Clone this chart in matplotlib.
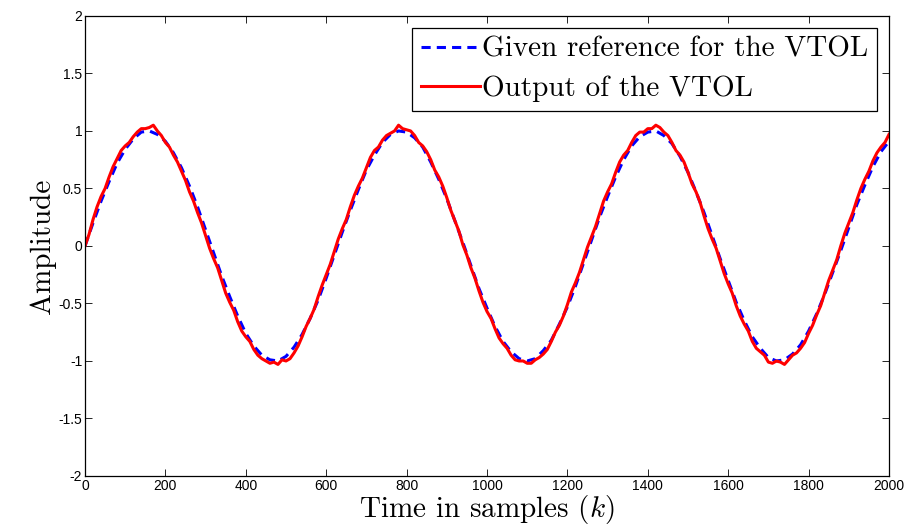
import numpy as np
import matplotlib
matplotlib.use('Agg')
import matplotlib.pyplot as plt

plt.rcParams['mathtext.fontset'] = 'cm'
plt.rcParams['axes.unicode_minus'] = False

# sample index of the reference (every 20 samples)
ref_samples = np.arange(0, 2001, 20)

# given reference
reference = [
    0.00, 0.20, 0.39, 0.56, 0.72, 0.84, 0.93, 0.99, 1.00, 0.97,
    0.91, 0.81, 0.68, 0.52, 0.34, 0.14, -0.06, -0.26, -0.44, -0.61,
    -0.76, -0.87, -0.95, -0.99, -1.00, -0.96, -0.88, -0.77, -0.63, -0.47,
    -0.28, -0.08, 0.12, 0.31, 0.49, 0.66, 0.79, 0.90, 0.97, 1.00,
    0.99, 0.94, 0.86, 0.73, 0.58, 0.41, 0.22, 0.03, -0.17, -0.37,
    -0.54, -0.70, -0.83, -0.92, -0.98, -1.00, -0.98, -0.91, -0.82, -0.68,
    -0.53, -0.35, -0.15, 0.05, 0.25, 0.43, 0.60, 0.75, 0.87, 0.95,
    0.99, 1.00, 0.96, 0.89, 0.78, 0.64, 0.47, 0.29, 0.09, -0.11,
    -0.30, -0.49, -0.65, -0.79, -0.89, -0.97, -1.00, -0.99, -0.94, -0.86,
    -0.74, -0.59, -0.42, -0.23, -0.04, 0.16, 0.36, 0.53, 0.69, 0.82,
    0.91,
]

# sample index of the measured output (every 10 samples)
out_samples = np.arange(0, 2001, 10)

output = [
    0.00, 0.10, 0.23, 0.34, 0.43, 0.50, 0.60, 0.69, 0.76, 0.83,
    0.87, 0.90, 0.95, 0.99, 1.02, 1.02, 1.03, 1.05, 1.00, 0.96,
    0.90, 0.86, 0.79, 0.73, 0.65, 0.57, 0.47, 0.39, 0.29, 0.20,
    0.09, -0.02, -0.11, -0.19, -0.30, -0.41, -0.49, -0.56, -0.66, -0.74,
    -0.79, -0.83, -0.90, -0.95, -0.98, -1.00, -1.02, -1.01, -1.03, -0.99,
    -1.00, -0.98, -0.93, -0.87, -0.79, -0.70, -0.63, -0.55, -0.44, -0.34,
    -0.25, -0.16, -0.05, 0.06, 0.15, 0.23, 0.34, 0.44, 0.52, 0.59,
    0.68, 0.77, 0.83, 0.86, 0.92, 0.96, 0.98, 1.00, 1.05, 1.02,
    1.01, 1.00, 0.96, 0.90, 0.87, 0.82, 0.75, 0.66, 0.60, 0.52,
    0.42, 0.31, 0.22, 0.13, 0.01, -0.08, -0.19, -0.28, -0.39, -0.49,
    -0.57, -0.63, -0.72, -0.80, -0.85, -0.89, -0.95, -0.99, -1.00, -1.00,
    -1.02, -1.02, -0.99, -0.97, -0.94, -0.90, -0.83, -0.75, -0.69, -0.61,
    -0.51, -0.40, -0.32, -0.23, -0.12, -0.01, 0.08, 0.17, 0.28, 0.39,
    0.47, 0.54, 0.64, 0.73, 0.79, 0.83, 0.90, 0.96, 0.99, 0.99,
    1.02, 1.02, 1.05, 1.03, 0.99, 0.96, 0.90, 0.83, 0.79, 0.73,
    0.64, 0.54, 0.47, 0.38, 0.26, 0.15, 0.06, -0.02, -0.13, -0.24,
    -0.33, -0.41, -0.52, -0.61, -0.68, -0.74, -0.83, -0.89, -0.92, -0.95,
    -1.01, -1.02, -1.00, -1.01, -1.03, -0.99, -0.95, -0.93, -0.89, -0.84,
    -0.76, -0.69, -0.60, -0.52, -0.41, -0.30, -0.21, -0.12, 0.00, 0.11,
    0.20, 0.29, 0.40, 0.50, 0.58, 0.65, 0.74, 0.81, 0.86, 0.90,
    0.97,
]

label_font = {'family': 'cmr10', 'size': 21}

fig = plt.figure(figsize=(9.09, 5.31), dpi=100)
ax = fig.add_axes([0.0935, 0.1036, 0.8845, 0.8664])

ax.plot(ref_samples, reference, color='blue', linestyle=(0, (3, 2)), linewidth=2.2,
        label='Given reference for the VTOL')
ax.plot(out_samples, output, color='red', linewidth=2.2, label='Output of the VTOL')

ax.set_xlim(0, 2000)
ax.set_ylim(-2, 2)
ax.set_xticks(np.arange(0, 2001, 200))
ax.set_yticks(np.arange(-2, 2.01, 0.5))
ax.set_yticklabels(['-2', '-1.5', '-1', '-0.5', '0', '0.5', '1', '1.5', '2'])
ax.tick_params(direction='in', top=True, right=True, length=5, width=0.6,
               labelsize=10, pad=2)
for lab in ax.get_xticklabels() + ax.get_yticklabels():
    lab.set_family('Liberation Sans')
for sp in ax.spines.values():
    sp.set_linewidth(0.9)

ax.set_xlabel(r'Time in samples $(k)$', fontdict=label_font, labelpad=0)
ax.set_ylabel('Amplitude', fontdict=label_font, labelpad=2)

leg = ax.legend(loc='upper right', prop={'family': 'cmr10', 'size': 21},
                fancybox=False, framealpha=1, edgecolor='black',
                handlelength=2.0, handletextpad=0.1, borderaxespad=0.4,
                borderpad=0.3, labelspacing=0.45)
leg.get_frame().set_linewidth(0.9)

fig.savefig('out.png', dpi=100)
